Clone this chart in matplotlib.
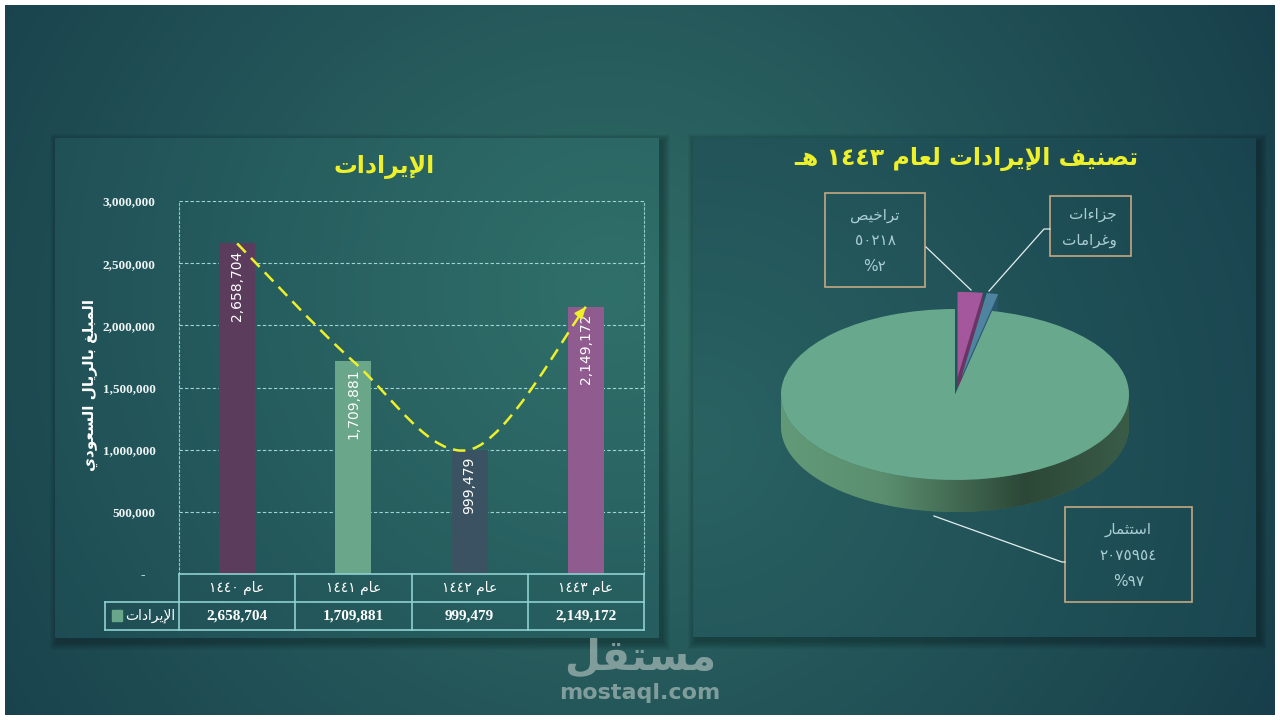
#!/usr/bin/env python3
'''Revenue 1440-1443 bars and 1443 revenue breakdown pie'''
import re
import numpy as np
import matplotlib
matplotlib.use('Agg')
import matplotlib.pyplot as plt
from matplotlib.path import Path
from matplotlib.patches import PathPatch, Polygon, Rectangle

# data
years = ['عام ١٤٤٠', 'عام ١٤٤١', 'عام ١٤٤٢', 'عام ١٤٤٣']
revenue = [2658704, 1709881, 999479, 2149172]
bar_colors = ['#5b3c5d', '#6aa689', '#3a5262', '#905b8e']
series_name = 'الإيرادات'
y_ticks = [0, 500000, 1000000, 1500000, 2000000, 2500000, 3000000]

pie_names = [['تراخيص'], ['جزاءات', 'وغرامات'], ['استثمار']]
pie_values = [50218, 23000, 2075954]
pie_value_text = ['٥٠٢١٨', '', '٢٠٧٥٩٥٤']
pie_pct_text = ['٢%', '', '٩٧%']
pie_colors = ['#a5579d', '#4e84a0', '#68a88c']
pie_dark = ['#6a3563', '#2c5670', '#3f6b55']

bar_title = 'الإيرادات'
pie_title = 'تصنيف الإيرادات لعام ١٤٤٣ هـ'
y_label = 'المبلغ بالريال السعودي'

W, H = 1280, 720
YELLOW = '#eef02a'
LABEL = '#a9cdd2'
BOX = '#c4a883'

# --- crude arabic shaping (matplotlib does no shaping / bidi) ---
AR_FORMS = {
    '\u0621': (0xFE80, 1), '\u0622': (0xFE81, 2), '\u0623': (0xFE83, 2),
    '\u0624': (0xFE85, 2), '\u0625': (0xFE87, 2), '\u0626': (0xFE89, 4),
    '\u0627': (0xFE8D, 2), '\u0628': (0xFE8F, 4), '\u0629': (0xFE93, 2),
    '\u062A': (0xFE95, 4), '\u062B': (0xFE99, 4), '\u062C': (0xFE9D, 4),
    '\u062D': (0xFEA1, 4), '\u062E': (0xFEA5, 4), '\u062F': (0xFEA9, 2),
    '\u0630': (0xFEAB, 2), '\u0631': (0xFEAD, 2), '\u0632': (0xFEAF, 2),
    '\u0633': (0xFEB1, 4), '\u0634': (0xFEB5, 4), '\u0635': (0xFEB9, 4),
    '\u0636': (0xFEBD, 4), '\u0637': (0xFEC1, 4), '\u0638': (0xFEC5, 4),
    '\u0639': (0xFEC9, 4), '\u063A': (0xFECD, 4), '\u0641': (0xFED1, 4),
    '\u0642': (0xFED5, 4), '\u0643': (0xFED9, 4), '\u0644': (0xFEDD, 4),
    '\u0645': (0xFEE1, 4), '\u0646': (0xFEE5, 4), '\u0647': (0xFEE9, 4),
    '\u0648': (0xFEED, 2), '\u0649': (0xFEEF, 2), '\u064A': (0xFEF1, 4),
}
LAM_ALEF = {'\u0622': 0xFEF5, '\u0623': 0xFEF7, '\u0625': 0xFEF9, '\u0627': 0xFEFB}
TATWEEL = '\u0640'


def joins_next(c):
    if c == TATWEEL:
        return True
    if isinstance(c, tuple):
        return False
    return c in AR_FORMS and AR_FORMS[c][1] == 4


def joins_prev(c):
    if c == TATWEEL or isinstance(c, tuple):
        return True
    return c in AR_FORMS and AR_FORMS[c][1] >= 2


def shape(text):
    chars = []
    i = 0
    while i < len(text):
        if text[i] == '\u0644' and i + 1 < len(text) and text[i + 1] in LAM_ALEF:
            chars.append(('la', text[i + 1]))
            i += 2
        else:
            chars.append(text[i])
            i += 1
    out = []
    for k, c in enumerate(chars):
        prev = chars[k - 1] if k > 0 else None
        nxt = chars[k + 1] if k + 1 < len(chars) else None
        p = prev is not None and joins_next(prev) and joins_prev(c)
        n = nxt is not None and joins_next(c) and joins_prev(nxt)
        if isinstance(c, tuple):
            out.append(chr(LAM_ALEF[c[1]] + (1 if p else 0)))
        elif c in AR_FORMS:
            base, nforms = AR_FORMS[c]
            if nforms == 4:
                off = 3 if (p and n) else 2 if n else 1 if p else 0
            elif nforms == 2:
                off = 1 if p else 0
            else:
                off = 0
            out.append(chr(base + off))
        else:
            out.append(c)
    return ''.join(out)


def ar(text):
    '''shape and put in visual order, keeping number runs left to right'''
    s = shape(text)[::-1]
    return re.sub(r'[0-9\u0660-\u0669,.]+', lambda m: m.group(0)[::-1], s)


def rect(x0, y0, x1, y1):
    return [x0 / W, 1 - y1 / H, (x1 - x0) / W, (y1 - y0) / H]


def radial(h, w, c0, c1, cx, cy, r):
    yy, xx = np.mgrid[0:h, 0:w]
    d = np.clip(np.hypot(xx - cx, yy - cy) / r, 0, 1)[..., None]
    c0 = np.array(matplotlib.colors.to_rgb(c0))
    c1 = np.array(matplotlib.colors.to_rgb(c1))
    return (1 - d) * c0 + d * c1


plt.rcParams['font.family'] = ['DejaVu Sans']
fig = plt.figure(figsize=(12.8, 7.2), dpi=100, facecolor='white')

# background
bg = fig.add_axes(rect(5, 5, 1275, 715))
bg.imshow(radial(180, 320, '#316f68', '#153a48', 150, 85, 210),
          extent=(5, 1275, 715, 5), aspect='auto', interpolation='bilinear')
bg.set_xlim(5, 1275)
bg.set_ylim(715, 5)
bg.axis('off')
for x0, y0, x1, y1 in [(55, 138, 659, 638), (693, 138, 1256, 637)]:
    for k in range(1, 9):
        bg.add_patch(Rectangle((x0 - k + 3, y0 - k + 4), x1 - x0 + 2 * k, y1 - y0 + 2 * k,
                               color='black', alpha=0.035, lw=0))

lp = fig.add_axes(rect(55, 138, 659, 638))
lp.imshow(radial(100, 120, '#30706a', '#1b4751', 110, 30, 150),
          aspect='auto', interpolation='bilinear')
lp.axis('off')
rp = fig.add_axes(rect(693, 138, 1256, 637))
rp.imshow(radial(100, 113, '#2a6262', '#163f4c', 0, 60, 150),
          aspect='auto', interpolation='bilinear')
rp.axis('off')

# bar chart
ax = fig.add_axes(rect(179, 201, 644, 574))
ax.set_facecolor('none')
x = np.arange(len(revenue))
ax.bar(x, revenue, width=0.31, color=bar_colors, zorder=3)
ax.set_xlim(-0.5, len(revenue) - 0.5)
ax.set_ylim(0, 3000000)
ax.set_yticks(y_ticks)
ax.set_yticklabels(['-   ' if t == 0 else f'{t:,}' for t in y_ticks],
                   fontfamily='Liberation Serif', fontweight='bold',
                   fontsize=9.5, color='#eef4f4')
ax.tick_params(axis='y', length=0, pad=17)
ax.set_xticks([])
ax.grid(axis='y', color='#a2d6d6', lw=0.8, ls=(0, (3, 2)))
ax.set_axisbelow(True)
for s in ['top', 'bottom']:
    ax.spines[s].set_visible(False)
for s in ['left', 'right']:
    ax.spines[s].set(color='#8cc8c8', lw=0.8, ls=(0, (2, 2)))

for xi, v in zip(x, revenue):
    ax.annotate(f'{v:,}', (xi, v), xytext=(0, -5), textcoords='offset points',
                rotation=90, ha='center', va='top', color='white', fontsize=10, zorder=5)

# smooth trend arrow through the bar tops
pts = np.column_stack([x, revenue]).astype(float)
ext = np.vstack([pts[0], pts, pts[-1]])
verts = [pts[0]]
codes = [Path.MOVETO]
for i in range(len(pts) - 1):
    p0, p1, p2, p3 = ext[i], ext[i + 1], ext[i + 2], ext[i + 3]
    verts += [p1 + (p2 - p0) / 6, p2 - (p3 - p1) / 6, p2]
    codes += [Path.CURVE4] * 3
ax.add_patch(PathPatch(Path(verts, codes), fill=False, ec=YELLOW, lw=1.8,
                       ls=(0, (5, 3)), zorder=6, clip_on=False))
tail = pts[-1] + 0.06 * (verts[-2] - pts[-1])
ax.annotate('', xy=pts[-1], xytext=tail,
            arrowprops=dict(arrowstyle='-|>,head_length=0.7,head_width=0.3',
                            color=YELLOW, lw=1.2, shrinkA=0, shrinkB=0), zorder=7)

# data table under the bars
ax_h = 574 - 201
row1 = -(602 - 574) / ax_h
row2 = -(630 - 574) / ax_h
leg_x = -(179 - 105) / (644 - 179)
xt = ax.get_xaxis_transform()
line_kw = dict(color='#8fd0d0', lw=1.2, clip_on=False, zorder=4)
ax.plot([0, 1], [0, 0], transform=ax.transAxes, **line_kw)
ax.plot([leg_x, 1], [row1, row1], transform=ax.transAxes, **line_kw)
ax.plot([leg_x, 1], [row2, row2], transform=ax.transAxes, **line_kw)
ax.plot([leg_x, leg_x], [row1, row2], transform=ax.transAxes, **line_kw)
for b in np.arange(len(revenue) + 1) - 0.5:
    ax.plot([b, b], [0, row2], transform=xt, **line_kw)
for xi, yr, v in zip(x, years, revenue):
    ax.text(xi, row1 / 2, ar(yr), transform=xt, ha='center', va='center',
            color='white', fontsize=10)
    ax.text(xi, (row1 + row2) / 2, f'{v:,}', transform=xt, ha='center', va='center',
            color='white', fontsize=11, fontfamily='Liberation Serif', fontweight='bold')

# pie chart (tilted, with some depth)
cx, cy, rx, ry, depth = 955, 394.5, 174, 85.5, 32 / 85.5
px0, py0, px1, py1 = 760, 260, 1150, 545
pax = fig.add_axes(rect(px0, py0, px1, py1))
explode = [0.2, 0.2, 0]
for d in np.linspace(depth, 0, 16)[:-1]:
    wedges, _ = pax.pie(pie_values, colors=pie_dark, explode=explode, center=(0, -d),
                        startangle=90, counterclock=False, wedgeprops=dict(lw=0))
    for w in wedges:
        w.set_zorder(1)
t = np.linspace(np.pi, 2 * np.pi, 200)
front = np.vstack([np.column_stack([np.cos(t), np.sin(t)]),
                   np.column_stack([np.cos(t[::-1]), np.sin(t[::-1]) - depth])])
clip = Polygon(front, closed=True, fc='none', ec='none')
pax.add_patch(clip)
side = np.interp(np.linspace(0, 1, 200), [0, 0.3, 0.7, 1], [0.0, 0.15, 1.0, 0.75])
side_cols = (1 - side)[:, None] * np.array(matplotlib.colors.to_rgb('#629a78')) \
    + side[:, None] * np.array(matplotlib.colors.to_rgb('#2c4737'))
im = pax.imshow(side_cols[None, :, :], extent=(-1, 1, -1 - depth, 0), aspect='auto',
                interpolation='bilinear', zorder=2)
im.set_clip_path(clip)
wedges, _ = pax.pie(pie_values, colors=pie_colors, explode=explode,
                    startangle=90, counterclock=False, wedgeprops=dict(lw=0))
for i, w in enumerate(wedges):
    w.set_zorder(4 if explode[i] else 3)
pax.set_aspect('auto')
pax.set_xlim((px0 - cx) / rx, (px1 - cx) / rx)
pax.set_ylim(-(py1 - cy) / ry, (cy - py0) / ry)
pax.axis('off')

# overlay in pixel coordinates: titles, labels, leader lines
ov = fig.add_axes([0, 0, 1, 1])
ov.set_xlim(0, W)
ov.set_ylim(H, 0)
ov.axis('off')
ov.text(384, 167, ar(bar_title), ha='center', va='center', color=YELLOW,
        fontsize=17, fontweight='bold')
ov.text(966, 159, ar(pie_title), ha='center', va='center', color=YELLOW,
        fontsize=17, fontweight='bold')
ov.text(90, 385, ar(y_label), ha='center', va='center', rotation=90,
        color='white', fontsize=11, fontweight='bold')
ov.add_patch(Rectangle((112, 610), 10, 11, color=bar_colors[1]))
ov.text(150, 616, ar(series_name), ha='center', va='center', color='white', fontsize=10)

boxes = [(825, 193, 925, 287), (1050, 196, 1131, 256), (1065, 507, 1192, 602)]
leaders = [[(926, 247), (971, 290)],
           [(1050, 229), (1044, 229), (989, 291)],
           [(934, 516), (1062, 562), (1065, 562)]]
for (x0, y0, x1, y1), lead, names, vt, pt in zip(boxes, leaders, pie_names,
                                                  pie_value_text, pie_pct_text):
    ov.add_patch(Rectangle((x0, y0), x1 - x0, y1 - y0, fill=False, ec=BOX, lw=1.2))
    lx, ly = zip(*lead)
    ov.plot(lx, ly, color='#e4eeee', lw=0.9)
    lines = names + [s for s in (vt, pt) if s]
    if len(lines) == 3:
        for j, s in enumerate(lines):
            ov.text((x0 + x1) / 2, y0 + (y1 - y0) * (0.24 + 0.27 * j), ar(s),
                    ha='center', va='center', color=LABEL, fontsize=11)
    else:
        for j, s in enumerate(lines):
            ov.text(x1 - 14, y0 + 18 + 26 * j, ar(s), ha='right', va='center',
                    color=LABEL, fontsize=11)

# watermark
ov.text(640, 657, ar('مستقل'), ha='center', va='center', color='#9fb5b2',
        alpha=0.75, fontsize=30, fontweight='bold')
ov.text(640, 693, 'mostaql.com', ha='center', va='center', color='#9fb5b2',
        alpha=0.75, fontsize=16, fontweight='bold')

fig.savefig('out.png', dpi=100, facecolor='white')
